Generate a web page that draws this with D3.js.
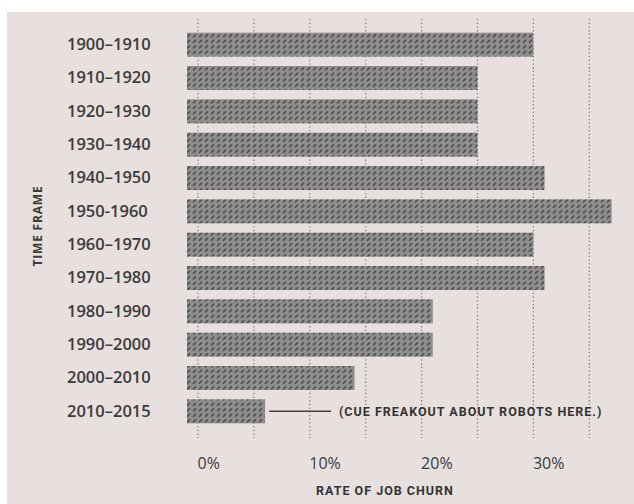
<!DOCTYPE html>
<html><head><meta charset="utf-8">
<script src="https://cdn.jsdelivr.net/npm/d3@7"></script>
<style>
html,body{margin:0;padding:0;background:#fff;}
svg{display:block;}
</style></head>
<body>
<svg id="chart" width="634" height="504"></svg>
<script>
const categories = ["1900–1910","1910–1920","1920–1930","1930–1940","1940–1950","1950-1960","1960–1970","1970–1980","1980–1990","1990–2000","2000–2010","2010–2015"];
const churn = [30, 25, 25, 25, 31, 37, 30, 31, 21, 21, 14, 6];
const gridTicks = [0, 5, 10, 15, 20, 25, 30, 35];
const labelTicks = [0, 10, 20, 30];
const tickLabels = ["0%", "10%", "20%", "30%"];
const annotation = "(CUE FREAKOUT ABOUT ROBOTS HERE.)";

const svg = d3.select("#chart");
const W = 634, H = 504;

svg.append("rect").attr("x", 0).attr("y", 0).attr("width", W).attr("height", H).attr("fill", "#ffffff");
svg.append("rect").attr("x", 7).attr("y", 12).attr("width", W - 7).attr("height", H - 12).attr("fill", "#e8e0df");

const defs = svg.append("defs");
const pat = defs.append("pattern").attr("id", "hatch").attr("patternUnits", "userSpaceOnUse")
  .attr("width", 6).attr("height", 5.5);
pat.append("rect").attr("width", 6).attr("height", 5.5).attr("fill", "#8e8e8e");
pat.append("line").attr("x1", 1.4).attr("y1", 3.9).attr("x2", 3.6).attr("y2", 1.7)
  .attr("stroke", "#484848").attr("stroke-width", 1.6).attr("stroke-linecap", "round");

const x = d3.scaleLinear().domain([0, 40]).range([198, 198 + 40 * 11.18]);
const y = d3.scaleBand().domain(categories).range([28, 428]).paddingInner(0.28).paddingOuter(0.14);
const barStart = x(0) - 11;

// gridlines
svg.append("g").selectAll("line").data(gridTicks).join("line")
  .attr("x1", d => x(d)).attr("x2", d => x(d))
  .attr("y1", 19).attr("y2", 438)
  .attr("stroke", "#7a7a7a").attr("stroke-width", 1.2)
  .attr("stroke-dasharray", "1.3,2.4");

// bars
svg.append("g").selectAll("rect").data(categories).join("rect")
  .attr("x", barStart)
  .attr("y", d => y(d))
  .attr("width", (d, i) => x(churn[i]) - barStart)
  .attr("height", y.bandwidth())
  .attr("fill", "url(#hatch)");

// category labels
svg.append("g").selectAll("text").data(categories).join("text")
  .attr("x", 67)
  .attr("y", d => y(d) + y.bandwidth() / 2 + 1)
  .attr("dominant-baseline", "middle")
  .attr("font-family", "'Open Sans', sans-serif")
  .attr("font-weight", 600)
  .attr("font-size", 16.5)
  .attr("fill", "#3b3b3b")
  .text(d => d);

// y title
svg.append("text")
  .attr("transform", "translate(42,226) rotate(-90)")
  .attr("text-anchor", "middle")
  .attr("font-family", "'Open Sans', sans-serif")
  .attr("font-weight", 700)
  .attr("font-size", 12)
  .attr("letter-spacing", 0.8)
  .attr("fill", "#3b3b3b")
  .text("TIME FRAME");

// x tick labels
svg.append("g").selectAll("text").data(labelTicks).join("text")
  .attr("x", d => x(d) - 0.5)
  .attr("y", 469)
  .attr("text-anchor", "start")
  .attr("font-family", "'Open Sans', sans-serif")
  .attr("font-weight", 500)
  .attr("font-size", 16)
  .attr("fill", "#3b3b3b")
  .text((d, i) => tickLabels[i]);

// x title
svg.append("text")
  .attr("x", 385).attr("y", 495)
  .attr("text-anchor", "middle")
  .attr("font-family", "Roboto, sans-serif")
  .attr("font-weight", 700)
  .attr("font-size", 12.5)
  .attr("letter-spacing", 1)
  .attr("fill", "#333")
  .text("RATE OF JOB CHURN");

// annotation
const last = categories[categories.length - 1];
const ay = y(last) + y.bandwidth() / 2;
svg.append("line")
  .attr("x1", x(churn[churn.length - 1]) + 4).attr("x2", x(churn[churn.length - 1]) + 66)
  .attr("y1", ay).attr("y2", ay)
  .attr("stroke", "#444").attr("stroke-width", 1.5);
svg.append("text")
  .attr("x", 339).attr("y", ay + 1)
  .attr("dominant-baseline", "middle")
  .attr("font-family", "Roboto, sans-serif")
  .attr("font-weight", 700)
  .attr("font-size", 12.5)
  .attr("letter-spacing", 1)
  .attr("fill", "#333")
  .text(annotation);
</script>
</body></html>
